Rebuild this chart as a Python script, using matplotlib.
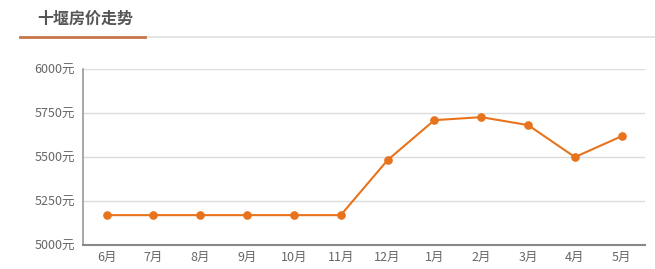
import matplotlib
matplotlib.use('Agg')
import matplotlib.pyplot as plt
from matplotlib.lines import Line2D

plt.rcParams['font.family'] = ['Noto Sans CJK SC', 'DejaVu Sans']

months = ['6月', '7月', '8月', '9月', '10月', '11月', '12月', '1月', '2月', '3月', '4月', '5月']
prices = [5170, 5170, 5170, 5170, 5170, 5170, 5483, 5710, 5727, 5682, 5500, 5619]
y_ticks = [5000, 5250, 5500, 5750, 6000]

line_color = '#e8731c'
text_color = '#666666'

fig = plt.figure(figsize=(6.55, 2.69), dpi=100)
ax = fig.add_axes([0.127, 0.089, 0.858, 0.654])

x = list(range(len(months)))
ax.plot(x, prices, color=line_color, lw=1.5, marker='o', markersize=5.2,
        markeredgecolor=line_color, markerfacecolor=line_color, zorder=3)

ax.set_xlim(-0.5, len(months) - 0.5)
ax.set_ylim(y_ticks[0], y_ticks[-1])
ax.set_xticks(x)
ax.set_xticklabels(months)
ax.set_yticks(y_ticks)
ax.set_yticklabels([f'{v}元' for v in y_ticks])
ax.tick_params(axis='both', length=0, colors=text_color, labelsize=9)
ax.tick_params(axis='x', pad=4)
ax.tick_params(axis='y', pad=6)

ax.grid(axis='y', color='#dcdcdc', lw=1)
ax.set_axisbelow(True)
for side in ['top', 'right']:
    ax.spines[side].set_visible(False)
ax.spines['left'].set_color('#999999')
ax.spines['bottom'].set_color('#888888')
ax.spines['left'].set_linewidth(1.2)
ax.spines['bottom'].set_linewidth(1.5)

# header
fig.text(37 / 655, 1 - 19 / 269, '十堰房价走势', fontsize=11.5, fontweight='bold',
         color='#555555', ha='left', va='center')
fig.add_artist(Line2D([20 / 655, 1.0], [1 - 37 / 269] * 2, color='#e0e0e0', lw=1.2))
fig.add_artist(Line2D([20 / 655, 145 / 655], [1 - 37 / 269] * 2, color='#c8764a', lw=2))

fig.savefig('out.png', dpi=100)
